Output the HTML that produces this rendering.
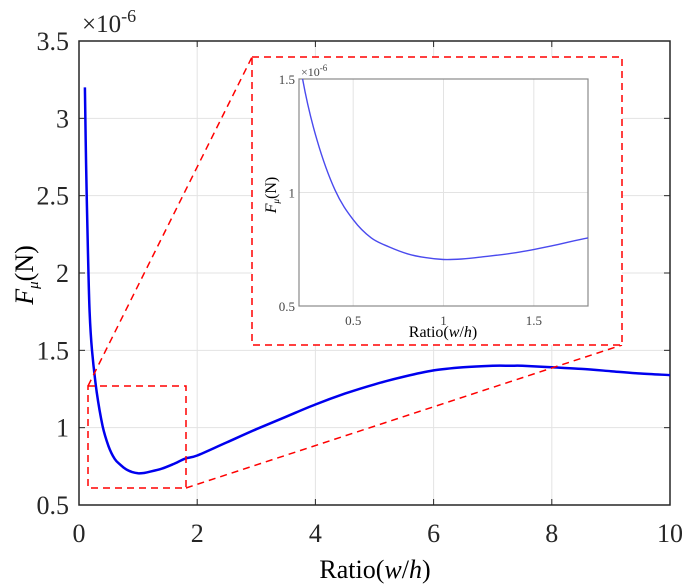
<!DOCTYPE html>
<html><head><meta charset="utf-8"><style>
body{margin:0;background:#fff}
svg{display:block}
svg text{font-family:"Liberation Serif","Times New Roman",serif}
</style></head><body>
<svg width="685" height="586" viewBox="0 0 685 586" id="svg" font-family="Liberation Serif, serif"></svg>
<script>
const xTicks=[0,2,4,6,8,10];
const yTicks=[0.5,1,1.5,2,2.5,3,3.5];
const yTickLabels=["0.5","1","1.5","2","2.5","3","3.5"];
const mainX=[0.1,0.12,0.15,0.18,0.22,0.3,0.4,0.5,0.6,0.7,0.8,0.9,1.0,1.1,1.2,1.4,1.6,1.8,2,2.5,3,3.5,4,4.5,5,5.5,6,6.5,7,7.3,7.5,8,8.5,9,9.5,10];
const mainY=[3.2,2.7,2.15,1.75,1.5,1.23,1.01,0.88,0.8,0.76,0.73,0.713,0.705,0.707,0.715,0.735,0.765,0.80,0.82,0.905,0.99,1.07,1.15,1.22,1.28,1.33,1.37,1.39,1.40,1.40,1.40,1.39,1.38,1.365,1.35,1.34];
const insetXTicks=[0.5,1,1.5];
const insetYTicks=[0.5,1,1.5];
const ns="http://www.w3.org/2000/svg";
const svg=document.getElementById('svg');
function el(t,a,p){const e=document.createElementNS(ns,t);for(const k in a)e.setAttribute(k,a[k]);(p||svg).appendChild(e);return e;}
function smooth(pts){let d='M'+pts[0][0].toFixed(1)+','+pts[0][1].toFixed(1);
 for(let i=0;i<pts.length-1;i++){const p0=pts[i-1]||pts[i],p1=pts[i],p2=pts[i+1],p3=pts[i+2]||p2;
  const c1=[p1[0]+(p2[0]-p0[0])/6,p1[1]+(p2[1]-p0[1])/6],c2=[p2[0]-(p3[0]-p1[0])/6,p2[1]-(p3[1]-p1[1])/6];
  d+='C'+c1.map(v=>v.toFixed(1)).join(',')+' '+c2.map(v=>v.toFixed(1)).join(',')+' '+p2.map(v=>v.toFixed(1)).join(',');}
 return d;}
const L=79,R=670,T=41,B=505;
const sx=v=>L+(v-0)/10*(R-L);
const sy=v=>B-(v-0.5)/3*(B-T);
let g=el('g',{});


xTicks.forEach(v=>{if(v>0&&v<10){const l=el('line',{x1:sx(v),x2:sx(v),y1:T,y2:B,stroke:'#e3e3e3','stroke-width':1},g);}});
yTicks.forEach(v=>{if(v>0.5&&v<3.5){const l=el('line',{x1:L,x2:R,y1:sy(v),y2:sy(v),stroke:'#e3e3e3','stroke-width':1},g);}});
const box=el('rect',{x:L,y:T,width:R-L,height:B-T,fill:'none',stroke:'#262626','stroke-width':1.5},g);

xTicks.forEach(v=>{el('line',{x1:sx(v),x2:sx(v),y1:B,y2:B-6,stroke:'#262626'},g);el('line',{x1:sx(v),x2:sx(v),y1:T,y2:T+6,stroke:'#262626'},g);
 const t=el('text',{x:sx(v),y:B+37,'text-anchor':'middle','font-size':26,fill:'#262626'},g);t.textContent=v;});
yTicks.forEach((v,i)=>{el('line',{x1:L,x2:L+6,y1:sy(v),y2:sy(v),stroke:'#262626'},g);el('line',{x1:R,x2:R-6,y1:sy(v),y2:sy(v),stroke:'#262626'},g);
 const t=el('text',{x:L-10,y:sy(v)+9,'text-anchor':'end','font-size':26,fill:'#262626'},g);t.textContent=yTickLabels[i];});
const exp=el('text',{x:82,y:32,'font-size':25,fill:'#262626'});exp.innerHTML='×10<tspan dy="-10" font-size="18">-6</tspan>';

const xl=el('text',{x:375,y:578,'text-anchor':'middle','font-size':26,fill:'#000'});xl.innerHTML='Ratio(<tspan font-style="italic">w</tspan>/<tspan font-style="italic">h</tspan>)';

const yl=el('text',{x:0,y:0,'text-anchor':'middle','font-size':26,fill:'#000',transform:'translate(33,275) rotate(-90)'});yl.innerHTML='<tspan font-style="italic">F</tspan><tspan font-style="italic" font-size="15" dy="5">μ</tspan><tspan dy="-5">(N)</tspan>';

const line=el('path',{d:smooth(mainX.map((x,i)=>[sx(x),sy(mainY[i])])),fill:'none',stroke:'#0000ee','stroke-width':2.5},g);

const dash={fill:'none',stroke:'#ff0000','stroke-width':1.5,'stroke-dasharray':'7,5'};
const zr=el('rect',Object.assign({x:88,y:386,width:98,height:102},dash));
const c1=el('line',Object.assign({x1:88,y1:386,x2:252,y2:57},dash));
const c2=el('line',Object.assign({x1:186,y1:488,x2:622,y2:345},dash));
el('rect',{x:252,y:57,width:370,height:288,fill:'#fff'});
const ibd=el('rect',Object.assign({x:252,y:57,width:370,height:288},dash));
const iL=299,iR=588,iT=79,iB=306;
const ix=v=>iL+(v-0.2)/1.6*(iR-iL);
const iy=v=>iB-(v-0.5)/1.0*(iB-iT);
const defs=el('defs',{});const cp=el('clipPath',{id:'ic'},defs);el('rect',{x:iL,y:iT,width:iR-iL,height:iB-iT},cp);
const ig=el('g',{});
insetXTicks.forEach(v=>{el('line',{x1:ix(v),x2:ix(v),y1:iT,y2:iB,stroke:'#e3e3e3'},ig);
 const t=el('text',{x:ix(v),y:iB+19,'text-anchor':'middle','font-size':13,fill:'#444'},ig);t.textContent=v;});
insetYTicks.forEach(v=>{if(v>0.5&&v<1.5)el('line',{x1:iL,x2:iR,y1:iy(v),y2:iy(v),stroke:'#e3e3e3'},ig);
 const t=el('text',{x:iL-4,y:iy(v)+5,'text-anchor':'end','font-size':13,fill:'#444'},ig);t.textContent=v;});
el('rect',{x:iL,y:iT,width:iR-iL,height:iB-iT,fill:'none',stroke:'#8a8a8a','stroke-width':1.2},ig);
const iex=el('text',{x:301,y:76,'font-size':12,fill:'#444'},ig);iex.innerHTML='×10<tspan dy="-5" font-size="9">-6</tspan>';
const ixl=el('text',{x:443,y:337,'text-anchor':'middle','font-size':16,fill:'#000'},ig);ixl.innerHTML='Ratio(<tspan font-style="italic">w</tspan>/<tspan font-style="italic">h</tspan>)';

const iyl=el('text',{x:0,y:0,'text-anchor':'middle','font-size':16,fill:'#000',transform:'translate(276,195) rotate(-90)'},ig);iyl.innerHTML='<tspan font-style="italic">F</tspan><tspan font-style="italic" font-size="9" dy="3">μ</tspan><tspan dy="-3">(N)</tspan>';

const ip=[];mainX.forEach((x,i)=>{if(x>=0.15&&x<=2)ip.push([ix(x),iy(mainY[i])]);});
const il=el('path',{d:smooth(ip),fill:'none',stroke:'#4a4aee','stroke-width':1.4,'clip-path':'url(#ic)'},ig);

</script>
</body></html>
